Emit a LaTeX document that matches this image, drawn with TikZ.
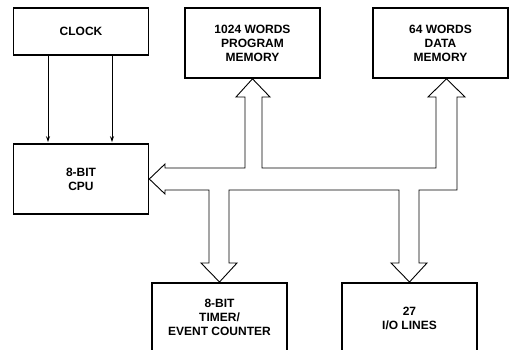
\documentclass[tikz,border=0pt]{standalone}
\usepackage{fontspec}
\setmainfont{Liberation Sans}
\usetikzlibrary{arrows.meta}

\begin{document}
\begin{tikzpicture}[
    x=1pt, y=-1pt,
    font=\fontsize{12}{14}\selectfont\bfseries,
    box/.style={draw, line width=1.6pt, inner sep=0pt, align=center, minimum width=135pt, minimum height=70pt},
    lbl/.style={align=center, inner sep=0pt},
    clk/.style={line width=0.9pt, shorten >=1pt, -{Stealth[length=6pt, width=4pt]}},
    bus/.style={line width=0.9pt, line join=miter}
]
\useasboundingbox (0,0) rectangle (515,349);
\clip (0,0) rectangle (515,349);
\node[box, minimum height=47pt] (clock) at (81,31.5) {CLOCK};
\node[box] (cpu) at (81,179) {8-BIT\\CPU};
\node[box] (prog) at (252.5,43) {1024 WORDS\\PROGRAM\\MEMORY};
\node[box] (data) at (440.5,43) {64 WORDS\\DATA\\MEMORY};
% lower boxes run off the bottom edge
\node[box, anchor=north, minimum height=90pt] (timer) at (219.5,282) {};
\node[box, anchor=north, minimum height=90pt] (io) at (409.5,282) {};
\node[lbl] (timertxt) at ([yshift=-35pt]timer.north) {8-BIT\\TIMER/\\EVENT COUNTER};
\node[lbl] (iotxt) at ([yshift=-36pt]io.north) {27\\I/O LINES};

\draw[clk] ([xshift=-33pt]clock.south) -- ([xshift=-33pt]cpu.north);
\draw[clk] ([xshift=31pt]clock.south) -- ([xshift=31pt]cpu.north);

% hollow bus
\draw[bus] (cpu.east) -- (165,164) -- (165,168) -- (245,168) -- (245,97) -- (236,97) -- (prog.south)
    -- (270,97) -- (262,97) -- (262,168) -- (436,168) -- (436,97) -- (428,97) -- ([xshift=6pt]data.south)
    -- (465,97) -- (457,97) -- (457,190) -- (419,190) -- (419,263) -- (427,263) -- (io.north)
    -- (391,263) -- (399,263) -- (399,190) -- (229,190) -- (229,263) -- (237,263) -- (timer.north)
    -- (201,263) -- (209,263) -- (209,190) -- (165,190) -- (165,194) -- cycle;
\end{tikzpicture}
\end{document}
